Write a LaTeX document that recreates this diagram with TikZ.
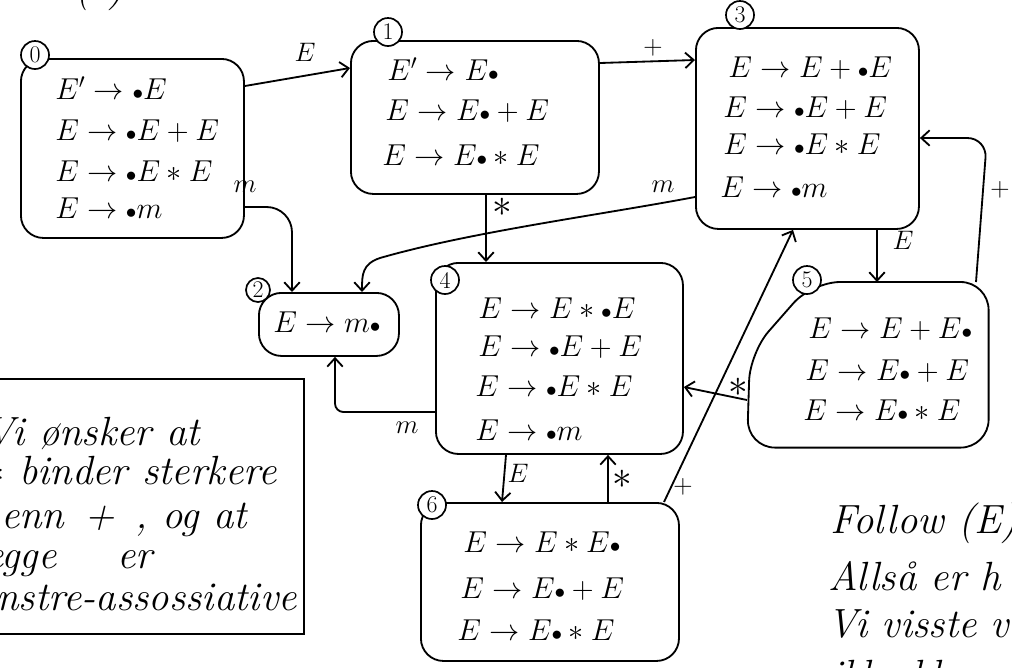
\RequirePackage{fix-cm}
\documentclass[tikz,border=0pt]{standalone}
\usetikzlibrary{arrows.meta}
\newcommand\itemdot{\mathord{\scriptstyle\bullet}}
\begin{document}
\begin{tikzpicture}[x=0.025cm,y=-0.025cm,
  lw/.style={line width=1.3pt},
  stbox/.style={draw, line width=1.3pt, rounded corners=16pt, anchor=north west, inner sep=0pt},
  num/.style={draw, circle, fill=white, line width=1.2pt, minimum size=0.7cm, inner sep=0pt, font=\fontsize{17}{20}\selectfont},
  itm/.style={anchor=base west, inner sep=0pt, font=\fontsize{21.5}{25}\selectfont},
  lab/.style={inner sep=0pt, font=\fontsize{19}{22}\selectfont},
  star/.style={inner sep=0pt, font=\fontsize{28}{30}\selectfont},
  hand/.style={inner sep=0pt, font=\fontsize{29}{34}\selectfont\itshape},
  conn/.style={line width=1.3pt, -{Straight Barb[length=6pt,width=11pt]}}
]
\useasboundingbox (0,0) rectangle (1012,667);
\clip (0,0) rectangle (1012,667);

% heading, cut off at the top edge
\node[hand, anchor=base west] (head) at (12,0) {E\hspace{0.9em}(\hspace{0.4em})};

% item-set boxes
\node[stbox, minimum width=5.575cm, minimum height=4.475cm] (s0) at (20,58) {};
\node[stbox, minimum width=6.2cm, minimum height=3.825cm] (s1) at (350,40) {};
\node[stbox, minimum width=5.575cm, minimum height=5.025cm] (s3) at (695,27) {};
\node[stbox, minimum width=3.5cm, minimum height=1.575cm] (s2) at (258,292) {};
\node[stbox, minimum width=6.175cm, minimum height=4.775cm] (s4) at (435,262) {};
\node[stbox, minimum width=6.45cm, minimum height=3.95cm] (s6) at (420,502) {};
% box 5 has a wide sloping top-left corner
\node[anchor=north west, inner sep=0pt, minimum width=6.025cm, minimum height=4.125cm] (s5) at (747,282) {};
\draw[lw, rounded corners=20pt] (s5.south west) -- ++(3,-95) -- (812,282) -- (s5.north east) -- (s5.south east) -- cycle;

% items
\node[itm] (i0a) at (55,99)  {$E' \to \itemdot E$};
\node[itm] (i0b) at (55,140) {$E \to \itemdot E + E$};
\node[itm] (i0c) at (55,181) {$E \to \itemdot E * E$};
\node[itm] (i0d) at (55,218) {$E \to \itemdot m$};

\node[itm] (i1a) at (387,80)  {$E' \to E \itemdot$};
\node[itm] (i1b) at (385,120) {$E \to E \itemdot + E$};
\node[itm] (i1c) at (382,165) {$E \to E \itemdot * E$};

\node[itm] (i3a) at (728,77)  {$E \to E + \itemdot E$};
\node[itm] (i3b) at (723,117) {$E \to \itemdot E + E$};
\node[itm] (i3c) at (723,154) {$E \to \itemdot E * E$};
\node[itm] (i3d) at (720,197) {$E \to \itemdot m$};

\node[itm] (i2a) at (273,332) {$E \to m \itemdot$};

\node[itm] (i4a) at (478,318) {$E \to E * \itemdot E$};
\node[itm] (i4b) at (478,356) {$E \to \itemdot E + E$};
\node[itm] (i4c) at (475,396) {$E \to \itemdot E * E$};
\node[itm] (i4d) at (475,440) {$E \to \itemdot m$};

\node[itm] (i5a) at (808,338) {$E \to E + E \itemdot$};
\node[itm] (i5b) at (805,380) {$E \to E \itemdot + E$};
\node[itm] (i5c) at (803,420) {$E \to E \itemdot * E$};

\node[itm] (i6a) at (463,552) {$E \to E * E \itemdot$};
\node[itm] (i6b) at (460,598) {$E \to E \itemdot + E$};
\node[itm] (i6c) at (457,640) {$E \to E \itemdot * E$};

% state numbers
\node[num] (n0) at (35,55)  {0};
\node[num] (n1) at (388,32) {1};
\node[num] (n3) at (740,15) {3};
\node[num, minimum size=0.6cm] (n2) at (258,290) {2};
\node[num] (n4) at (445,280) {4};
\node[num] (n5) at (807,280) {5};
\node[num] (n6) at (432,505) {6};

% transitions
\draw[conn] (s0.east |- 0,86) -- (s1.west |- 0,68);
\draw[conn] (s1.east |- 0,63) -- (s3.west |- 0,60);
\draw[conn, rounded corners=18pt] (s0.east |- 0,207) -| (s2.north -| 292,0);
\draw[conn] (s3.west |- 0,197) .. controls (600,215) and (470,232) .. (380,258)
            .. controls (362,264) and (362,275) .. (s2.north -| 362,0);
\draw[conn] (s1.south -| 486,0) -- (s4.north -| 486,0);
\draw[conn, rounded corners=6pt] (s4.west |- 0,412) -| (s2.south -| 335,0);
\draw[conn] (s3.south -| 877,0) -- (s5.north -| 877,0);
\draw[conn, rounded corners=14pt] (s5.north -| 976,0) -- (987,138) -- (s3.east |- 0,138);
\draw[conn] (s5.west |- 0,400) -- (s4.east |- 0,387);
\draw[conn] (s6.north -| 664,0) -- (s3.south -| 793,0);
\draw[conn] (s4.south -| 506,0) -- (s6.north -| 502,0);
\draw[conn] (s6.north -| 608,0) -- (s4.south -| 608,0);

% transition labels
\node[lab] (l01) at (305,52)  {$E$};
\node[lab] (l13) at (653,48)  {$+$};
\node[lab] (l02) at (245,187) {$m$};
\node[lab] (l32) at (663,187) {$m$};
\node[star] (l14) at (502,207) {$\ast$};
\node[lab] (l42) at (407,428) {$m$};
\node[lab] (l35) at (903,240) {$E$};
\node[lab] (l53) at (1000,190) {$+$};
\node[star] (l54) at (738,387) {$\ast$};
\node[lab] (l63) at (683,487) {$+$};
\node[lab] (l46) at (518,473) {$E$};
\node[star] (l64) at (622,479) {$\ast$};

% note box
\node[draw, lw, anchor=north west, inner sep=0pt, minimum width=8.325cm, minimum height=6.375cm] (note) at (-30,378) {};
\node[hand, anchor=base east] (t1) at (200,445) {Vi ønsker at};
\node[hand, anchor=base east] (t2) at (277,484) {$*$ binder sterkere};
\node[hand, anchor=base east] (t3) at (247,528) {enn\enspace +\enspace, og at};
\node[hand, anchor=base east] (t4) at (153,568) {begge\hspace{1.5em}er};
\node[hand, anchor=base east] (t5) at (297,610) {venstre-assossiative};

% notes at the lower right, cut off by the edges
\node[hand, anchor=base west] (r1) at (830,533) {Follow (E)};
\node[hand, anchor=base west] (r2) at (828,590) {Allså er h};
\node[hand, anchor=base west] (r3) at (827,637) {Vi visste v};
\node[hand, anchor=base west] (r4) at (830,688) {ikke ble};
\end{tikzpicture}
\end{document}
